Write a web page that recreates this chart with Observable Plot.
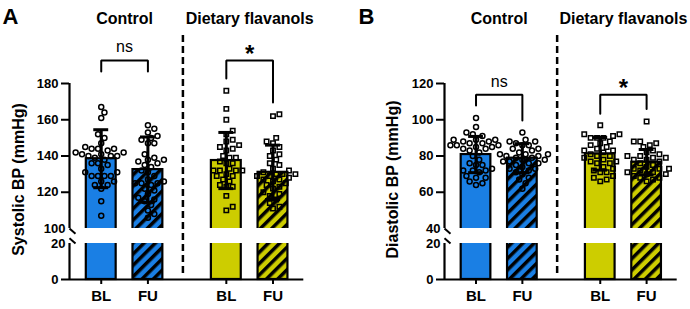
<!DOCTYPE html>
<html><head><meta charset="utf-8">
<script src="https://cdn.jsdelivr.net/npm/d3@7"></script>
<script src="https://cdn.jsdelivr.net/npm/@observablehq/plot@0.6"></script>
<style>
body{margin:0;background:#fff;}
#wrap{position:relative;width:690px;height:309px;overflow:hidden;background:#fff;}
.panel{position:absolute;top:0;}
</style></head><body>
<div id="wrap"><div id="pA" class="panel" style="left:0"></div><div id="pB" class="panel" style="left:345px"></div></div>
<script>
// ---------- data ----------
const groups = ["Control", "Dietary flavanols"];
const timepoints = ["BL", "FU"];
const panelLetters = ["A", "B"];
const yTitles = ["Systolic BP (mmHg)", "Diastolic BP (mmHg)"];
const significance = ["ns", "*"];

const sbpMeans = [138.5, 132.5, 137.5, 131];
const sbpSD = [16, 18, 15.5, 15];
const dbpMeans = [80.8, 78.8, 81.2, 76.6];
const dbpSD = [10, 8, 9, 7];

const sbpControlBL = [167,164,161,152,150,147,145,144,144,144,143,142,142,141,141,140,140,140,139,138,136,136,135,133,131,131,129,129,129,129,126,126,124,124,122,115,107];
const sbpControlFU = [157,155,153,151,150,149,147,147,141,139,138,138,137,136,135,134,132,131,129,127,126,125,125,125,124,122,121,119,117,116,115,113,110,108,106];
const sbpFlavBL = [176,166,160,154,152,149,148,146,145,144,143,140,139,139,137,136,136,133,132,132,132,132,130,129,129,127,126,124,123,123,118,112,110];
const sbpFlavFU = [163,162,150,148,147,145,143,141,140,138,136,135,133,132,131,130,130,130,129,129,128,127,127,126,125,124,123,122,120,119,118,116,114,112,111];
const dbpControlBL = [101,96,93,92,91,89,89,89,88,88,87,87,86,86,86,85,85,84,84,83,82,80,78,76,75,75,73,72,72,72,71,69,68,68,66,65,64];
const dbpControlFU = [93,89,88,88,87,86,86,84,84,83,82,81,81,81,80,80,79,79,78,78,77,77,76,76,75,74,73,73,72,71,70,68,67,65,62];
const dbpFlavBL = [97,92,92,91,90,90,90,88,87,86,85,84,83,83,82,81,80,80,79,78,77,77,76,76,74,73,72,71,71,69,68,67,66];
const dbpFlavFU = [99,88,88,87,86,85,83,82,81,80,80,79,79,78,78,77,76,75,74,73,73,73,72,71,71,70,70,69,68,68,67,66];

const sbpTicks = [0, 120, 140, 160, 180];
const sbpBreakTicks = [20, 100];
const dbpTicks = [0, 60, 80, 100, 120];
const dbpBreakTicks = [20, 40];

// ---------- styles ----------
const BLUE = "#1a7fe4";
const YELLOW = "#cdcd00";
const FONT = "Arial, 'Liberation Sans', Helvetica, sans-serif";

const defs = document.createElementNS("http://www.w3.org/2000/svg", "svg");
defs.setAttribute("width", 0); defs.setAttribute("height", 0);
defs.style.position = "absolute";
defs.innerHTML = `<defs>
<pattern id="hatchBlue" patternUnits="userSpaceOnUse" width="8" height="8" patternTransform="rotate(45)">
<rect width="8" height="8" fill="${BLUE}"/><rect width="3.5" height="8" fill="#000"/></pattern>
<pattern id="hatchYellow" patternUnits="userSpaceOnUse" width="8" height="8" patternTransform="rotate(45)">
<rect width="8" height="8" fill="${YELLOW}"/><rect width="3.5" height="8" fill="#000"/></pattern></defs>`;
document.body.appendChild(defs);
const fills = [BLUE, "url(#hatchBlue)", YELLOW, "url(#hatchYellow)"];

const positions = [0, 1, 2.68, 3.68];
const xDomain = [-0.68, 4.34];

// broken axis: maps a value to the linear (broken) axis space
function makeBreak(low, high, top) {
  const lowLen = 36, gapLen = 15, upLen = 145;
  const f = v => v <= low ? v * lowLen / low
    : v < high ? lowLen + (v - low) * gapLen / (high - low)
    : lowLen + gapLen + (v - high) * upLen / (top - high);
  f.top = f(top);
  return f;
}

function swarm(values, yPx, D) {
  const out = values.map(v => ({v, y: yPx(v), off: 0}));
  const order = out.slice().sort((a, b) => a.v - b.v);
  const placed = [];
  for (const p of order) {
    for (let k = 0; k < 60; k++) {
      const cand = k === 0 ? 0 : (k % 2 ? 1 : -1) * Math.ceil(k / 2) * (D / 2);
      let ok = true;
      for (const q of placed) {
        const dx = cand - q.off, dy = p.y - q.y;
        if (dx * dx + dy * dy < D * D * 0.95) { ok = false; break; }
      }
      if (ok) { p.off = cand; break; }
    }
    placed.push(p);
  }
  return out;
}

const slash = {draw(ctx) { ctx.moveTo(-3, -2.6); ctx.lineTo(3, 2.6); }};

function panel(cfg) {
  const B = makeBreak(cfg.low, cfg.high, cfg.top);
  const yDom = [0, B.top];
  const yPx = d3.scaleLinear().domain(yDom).range([279, 83]);
  const unit = (cfg.right - cfg.left) / (xDomain[1] - xDomain[0]);
  const bars = positions.map((p, i) => ({pos: p, mean: cfg.means[i], sd: cfg.sds[i], fill: fills[i]}));
  const circles = [], squares = [];
  cfg.points.forEach((vals, i) => {
    swarm(vals, v => yPx(B(v)), 6.4).forEach(s => (i < 2 ? circles : squares).push({x: positions[i] + s.off / unit, y: s.v}));
  });
  const brackets = [];
  cfg.brackets.forEach((b, j) => {
    const p0 = positions[2 * j], p1 = positions[2 * j + 1];
    brackets.push({id: j, x: p0, y: b[1]}, {id: j, x: p0, y: b[0]}, {id: j, x: p1, y: b[0]}, {id: j, x: p1, y: b[2]});
  });
  const mids = [(positions[0] + positions[1]) / 2, (positions[2] + positions[3]) / 2];
  const tickLabel = new Map([...cfg.ticks, ...cfg.breakTicks].map(t => [B(t), String(t)]));
  const lbl = d => tickLabel.get(d);
  return Plot.plot({
    width: 345, height: 309,
    marginLeft: cfg.left, marginRight: 345 - cfg.right, marginTop: 83, marginBottom: 30,
    x: {domain: xDomain, axis: null},
    y: {domain: yDom, axis: null},
    color: {type: "identity"},
    style: {fontFamily: FONT, background: "white", color: "black"},
    marks: [
      Plot.rect(bars, {x1: d => d.pos - 0.32, x2: d => d.pos + 0.32, y1: B(0), y2: d => B(d.mean), fill: "fill", stroke: "black", strokeWidth: 2.2}),
      Plot.rect([0], {x1: xDomain[0], x2: xDomain[1], y1: B(cfg.low), y2: B(cfg.high), fill: "white"}),
      Plot.dot(circles, {x: "x", y: d => B(d.y), r: 2.5, stroke: "black", strokeWidth: 1.5, fill: "none"}),
      Plot.dot(squares, {x: "x", y: d => B(d.y), symbol: "square", r: 2.5, stroke: "black", strokeWidth: 1.5, fill: "none"}),
      Plot.ruleX(bars, {x: "pos", y1: d => B(d.mean - d.sd), y2: d => B(d.mean + d.sd), strokeWidth: 3}),
      Plot.ruleY(bars, {y: d => B(d.mean + d.sd), x1: d => d.pos - 0.16, x2: d => d.pos + 0.16, strokeWidth: 3}),
      Plot.ruleY(bars, {y: d => B(d.mean - d.sd), x1: d => d.pos - 0.16, x2: d => d.pos + 0.16, strokeWidth: 3}),
      Plot.ruleY([B(0)], {strokeWidth: 2.2}),
      Plot.ruleX([xDomain[0]], {y1: B(cfg.high), y2: B(cfg.top), strokeWidth: 2.2}),
      Plot.ruleX([xDomain[0]], {y1: B(0), y2: B(cfg.low), strokeWidth: 2.2}),
      Plot.axisY(cfg.ticks.map(B), {tickSize: 8, tickPadding: 3, fontSize: 13, fontWeight: "bold", strokeWidth: 2, label: null, tickFormat: lbl}),
      Plot.axisY(cfg.breakTicks.map(B), {tickSize: 0, tickPadding: 4, fontSize: 13, fontWeight: "bold", label: null, tickFormat: lbl}),
      Plot.dot([B(cfg.high)], {x: xDomain[0], y: d => d, symbol: slash, r: 3, stroke: "black", strokeWidth: 2, fill: "none", dx: 3, dy: 2.6}),
      Plot.dot([B(cfg.low)], {x: xDomain[0], y: d => d, symbol: slash, r: 3, stroke: "black", strokeWidth: 2, fill: "none", dx: 3, dy: -2.6}),
      Plot.axisX(positions, {tickFormat: d => timepoints[positions.indexOf(d) % 2], tickSize: 5, tickPadding: 6, fontSize: 15, fontWeight: "bold", strokeWidth: 2, label: null}),
      Plot.ruleX([1.75], {y1: B(3.3), y2: B(cfg.divTop), strokeWidth: 2.5, strokeDasharray: "7,4"}),
      Plot.line(brackets, {x: "x", y: d => B(d.y), z: "id", strokeWidth: 2, strokeLinejoin: "miter"}),
      Plot.text([significance[0]], {x: mids[0], y: B(cfg.nsY), text: d => d, lineAnchor: "bottom", fontSize: 16}),
      Plot.text([significance[1]], {x: mids[1], y: B(cfg.starY), text: d => d, lineAnchor: "bottom", fontSize: 24, fontWeight: "bold"}),
      Plot.text(groups, {x: (d, i) => mids[i], y: B(cfg.titleY), text: d => d, lineAnchor: "bottom", fontSize: 16, fontWeight: "bold"}),
      Plot.text([cfg.letter], {frameAnchor: "top-left", dx: cfg.letterDx, dy: -60, text: d => d, textAnchor: "start", lineAnchor: "bottom", fontSize: 22, fontWeight: "bold"}),
      Plot.text([cfg.yTitle], {frameAnchor: "left", dx: cfg.titleDx, dy: -2, rotate: -90, text: d => d, textAnchor: "middle", lineAnchor: "middle", fontSize: 16, fontWeight: "bold"})
    ]
  });
}

document.getElementById("pA").appendChild(panel({
  left: 69, right: 303.3, low: 20, high: 100, top: 180,
  means: sbpMeans, sds: sbpSD,
  points: [sbpControlBL, sbpControlFU, sbpFlavBL, sbpFlavFU],
  ticks: sbpTicks, breakTicks: sbpBreakTicks,
  brackets: [[192.7, 186.6, 186.6], [192.7, 182.8, 169.5]],
  nsY: 197.3, starY: 191.8, titleY: 212.6, divTop: 208,
  letter: panelLetters[0], letterDx: -67, yTitle: yTitles[0], titleDx: -50.3
}));
document.getElementById("pB").appendChild(panel({
  left: 99, right: 331.7, low: 20, high: 40, top: 120,
  means: dbpMeans, sds: dbpSD,
  points: [dbpControlBL, dbpControlFU, dbpFlavBL, dbpFlavFU],
  ticks: dbpTicks, breakTicks: dbpBreakTicks,
  brackets: [[113.8, 107.9, 99.6], [113.8, 103.3, 106]],
  nsY: 118.3, starY: 113, titleY: 152.6, divTop: 148.1,
  letter: panelLetters[1], letterDx: -86, yTitle: yTitles[1], titleDx: -51.5
}));
</script>
</body></html>
